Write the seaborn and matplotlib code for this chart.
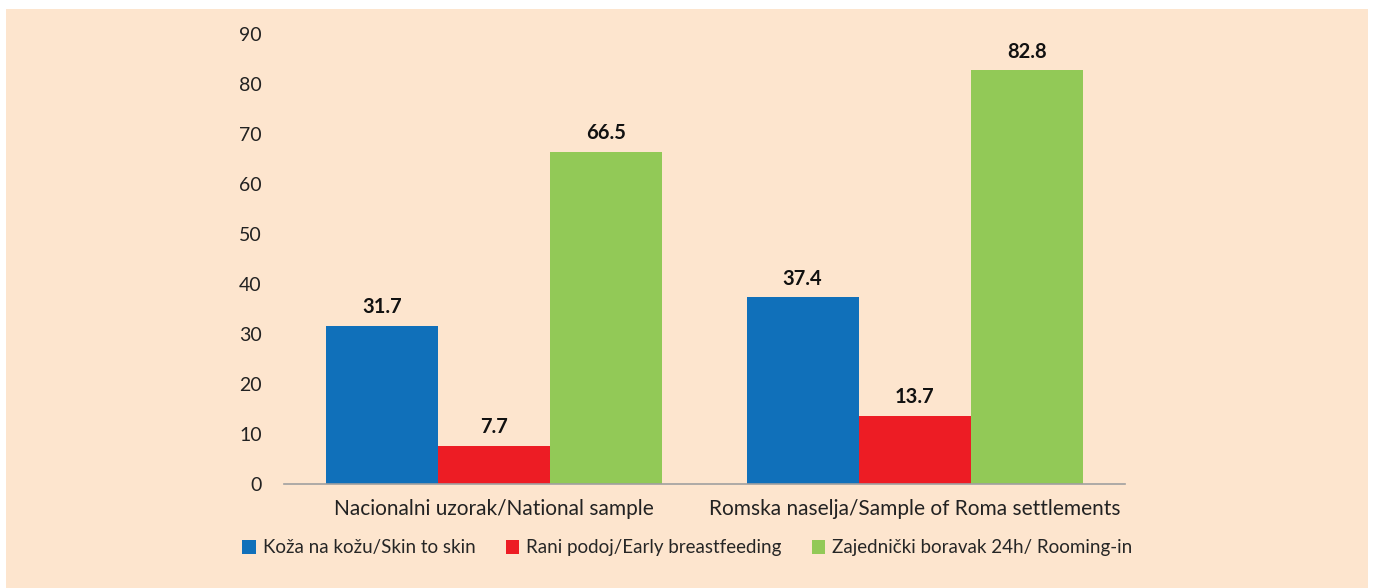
import matplotlib
matplotlib.use("Agg")
import matplotlib.pyplot as plt
from matplotlib.patches import Rectangle, Patch
import seaborn as sns
import pandas as pd

categories = ["Nacionalni uzorak/National sample", "Romska naselja/Sample of Roma settlements"]
series_names = ["Koža na kožu/Skin to skin", "Rani podoj/Early breastfeeding", "Zajednički boravak 24h/ Rooming-in"]
skin_to_skin = [31.7, 37.4]
early_breastfeeding = [7.7, 13.7]
rooming_in = [66.5, 82.8]
y_ticks = [0, 10, 20, 30, 40, 50, 60, 70, 80, 90]

colors = ["#1070BA", "#ED1C24", "#92C957"]
bg = "#FDE5CE"

rows = []
for name, vals in zip(series_names, [skin_to_skin, early_breastfeeding, rooming_in]):
    for c, v in zip(categories, vals):
        rows.append({"cat": c, "series": name, "value": v})
df = pd.DataFrame(rows)

sns.set_theme(style="white")
plt.rcParams["font.family"] = ["Lato", "DejaVu Sans"]

fig = plt.figure(figsize=(13.75, 5.88), dpi=100)
fig.patch.set_facecolor("white")
fig.patches.append(Rectangle((6 / 1375, 0), (1368 - 6) / 1375, (588 - 9) / 588,
                             transform=fig.transFigure, facecolor=bg, edgecolor="none", zorder=-10))

ax = fig.add_axes([284 / 1375, (588 - 484) / 588, (1125 - 284) / 1375, (484 - 34) / 588])
ax.set_zorder(1)
ax.set_facecolor("none")
sns.barplot(data=df, x="cat", y="value", hue="series", hue_order=series_names,
            order=categories, palette=colors, width=0.8, saturation=1, linewidth=0,
            ax=ax, legend=False)

for cont in ax.containers:
    ax.bar_label(cont, fmt="%.1f", padding=6, fontsize=14.5, fontweight="bold", color="#111111")

ax.set_ylim(0, 90)
ax.set_xlim(-0.5, 1.5)
ax.set_yticks(y_ticks)
ax.set_yticklabels([str(t) for t in y_ticks], fontsize=14, color="#222222")
ax.tick_params(axis="y", length=0, pad=16)
ax.tick_params(axis="x", length=0, pad=11, labelsize=15, labelcolor="#222222")
ax.set_xlabel("")
ax.set_ylabel("")
for s in ["top", "right", "left"]:
    ax.spines[s].set_visible(False)
ax.spines["bottom"].set_color("#A0A0A0")
ax.spines["bottom"].set_linewidth(1.2)

handles = [Patch(facecolor=c, edgecolor="none") for c in colors]
fig.legend(handles, series_names, loc="center", bbox_to_anchor=(0.5, 1 - 548 / 588), ncol=3,
           frameon=False, fontsize=13.5, handlelength=0.7, handleheight=0.7,
           handletextpad=0.4, columnspacing=1.6)

fig.savefig("out.png", dpi=100, facecolor=fig.get_facecolor())
